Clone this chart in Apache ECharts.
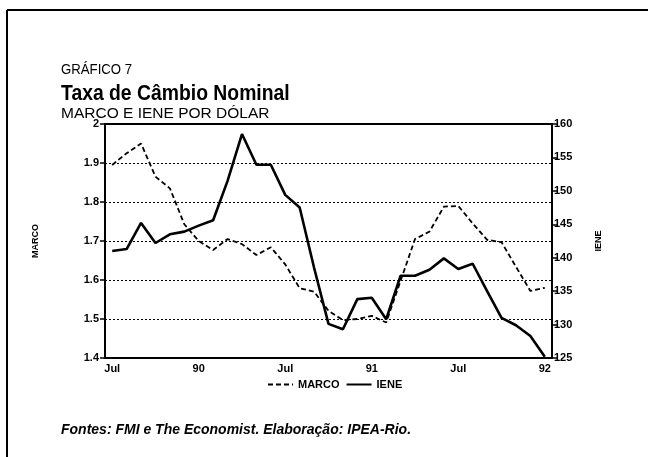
<!DOCTYPE html>
<html>
<head>
<meta charset="utf-8">
<style>
html,body{margin:0;padding:0;background:#fff;}
#chart{width:648px;height:457px;}
</style>
<script src="https://cdn.jsdelivr.net/npm/echarts@6/dist/echarts.min.js"></script>
</head>
<body>
<div id="chart"></div>
<script>
// Months from Jul 1989 to Jan 1992
var months = ['1989-07','1989-08','1989-09','1989-10','1989-11','1989-12',
  '1990-01','1990-02','1990-03','1990-04','1990-05','1990-06',
  '1990-07','1990-08','1990-09','1990-10','1990-11','1990-12',
  '1991-01','1991-02','1991-03','1991-04','1991-05','1991-06',
  '1991-07','1991-08','1991-09','1991-10','1991-11','1991-12','1992-01'];
var xTickLabels = {'1989-07':'Jul','1990-01':'90','1990-07':'Jul','1991-01':'91','1991-07':'Jul','1992-01':'92'};
var marco = [1.895,1.925,1.95,1.865,1.835,1.743,1.70,1.677,1.705,1.692,1.664,1.684,
  1.640,1.579,1.570,1.521,1.497,1.500,1.508,1.491,1.598,1.705,1.724,1.788,
  1.790,1.745,1.703,1.697,1.634,1.572,1.580];
var iene = [141.0,141.3,145.2,142.2,143.5,143.9,144.8,145.6,151.5,158.5,153.9,153.9,
  149.4,147.5,138.5,130.1,129.3,133.8,134.0,130.8,137.3,137.3,138.2,139.9,
  138.3,139.1,135.0,131.0,129.9,128.3,125.2];
var leftTicks = {min:1.4, max:2, interval:0.1};
var rightTicks = {min:125, max:160, interval:5};

var FONT = '"Liberation Sans", Arial, Helvetica, sans-serif';
var chart = echarts.init(document.getElementById('chart'), null, {renderer:'canvas'});
var option = {
  backgroundColor:'#fff',
  animation:false,
  textStyle:{fontFamily:FONT},
  grid:{left:105, right:96, top:124, bottom:99, show:true, borderColor:'#000', borderWidth:2, backgroundColor:'transparent'},
  legend:{
    left:262, top:374, itemWidth:25, itemHeight:10, itemGap:6,
    itemStyle:{opacity:0},
    textStyle:{fontFamily:FONT, fontWeight:'bold', fontSize:11, color:'#000'},
    data:[{name:'MARCO'},{name:'IENE'}]
  },
  xAxis:{
    type:'category', data:months, boundaryGap:true,
    axisLine:{lineStyle:{color:'#000', width:2}},
    axisTick:{alignWithLabel:true, interval:0, inside:true, length:4, lineStyle:{color:'#000', width:1.5}},
    axisLabel:{interval:0, margin:5, fontFamily:FONT, fontWeight:'bold', fontSize:11, color:'#000',
      formatter:function(v){return xTickLabels[v] || '';}},
    splitLine:{show:false}
  },
  yAxis:[{
    type:'value', min:leftTicks.min, max:leftTicks.max, interval:leftTicks.interval, position:'left',
    name:'MARCO', nameLocation:'middle', nameGap:65, nameRotate:90,
    nameTextStyle:{fontFamily:FONT, fontWeight:'bold', fontSize:9, color:'#000'},
    axisLine:{show:true, lineStyle:{color:'#000', width:2}},
    axisTick:{show:true, length:5, lineStyle:{color:'#000', width:1.5}},
    axisLabel:{margin:6, fontFamily:FONT, fontWeight:'bold', fontSize:11, color:'#000',
      formatter:function(v){return v===2?'2':v.toFixed(1);}},
    splitLine:{show:true, lineStyle:{color:'#000', type:[2,2], width:1}}
  },{
    type:'value', min:rightTicks.min, max:rightTicks.max, interval:rightTicks.interval, position:'right',
    name:'IENE', nameLocation:'middle', nameGap:42, nameRotate:90,
    nameTextStyle:{fontFamily:FONT, fontWeight:'bold', fontSize:9, color:'#000'},
    axisLine:{show:true, lineStyle:{color:'#000', width:2}},
    axisTick:{show:true, length:5, lineStyle:{color:'#000', width:1.5}},
    axisLabel:{margin:2, fontFamily:FONT, fontWeight:'bold', fontSize:11, color:'#000'},
    splitLine:{show:false}
  }],
  series:[{
    name:'MARCO', type:'line', yAxisIndex:0, data:marco, symbol:'none',
    lineStyle:{color:'#000', width:1.8, type:[5,3]}, itemStyle:{color:'#000'}
  },{
    name:'IENE', type:'line', yAxisIndex:1, data:iene, symbol:'none',
    lineStyle:{color:'#000', width:2.6}, itemStyle:{color:'#000'}
  }],
  graphic:[
    {type:'line', shape:{x1:7, y1:10, x2:648, y2:10}, style:{stroke:'#000', lineWidth:2}},
    {type:'line', shape:{x1:7, y1:10, x2:7, y2:457}, style:{stroke:'#000', lineWidth:2}},
    {type:'text', x:61, y:62, scaleX:0.88, style:{text:'GRÁFICO 7', font:'15px '+FONT, fill:'#000', textVerticalAlign:'top'}},
    {type:'text', x:61, y:83, scaleX:0.9, style:{text:'Taxa de Câmbio Nominal', font:'bold 21.5px '+FONT, fill:'#000', textVerticalAlign:'top'}},
    {type:'text', x:61, y:106, style:{text:'MARCO E IENE POR DÓLAR', font:'15.5px '+FONT, fill:'#000', textVerticalAlign:'top'}},
    {type:'text', x:61, y:423, style:{text:'Fontes: FMI e The Economist. Elaboração: IPEA-Rio.', font:'italic bold 14px '+FONT, fill:'#000', textVerticalAlign:'top'}}
  ]
};
chart.setOption(option);
</script>
</body>
</html>
